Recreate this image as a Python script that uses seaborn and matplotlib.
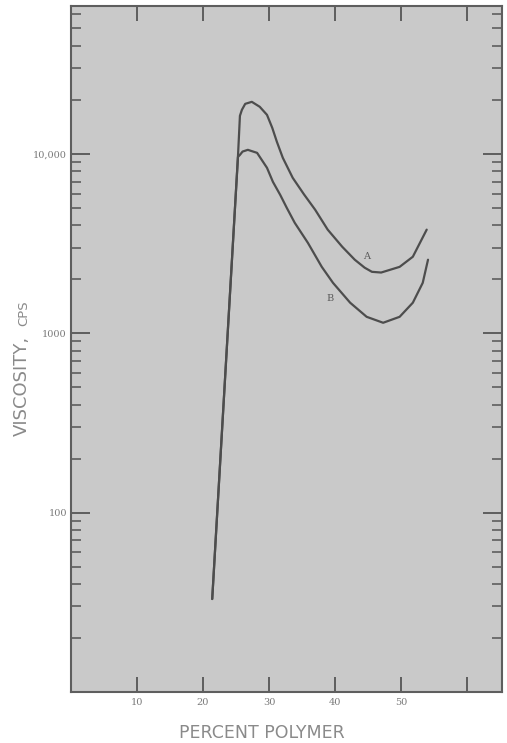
import matplotlib
matplotlib.use("Agg")
import matplotlib.pyplot as plt
import matplotlib.ticker as mticker
import seaborn as sns
import pandas as pd
import numpy as np

# values (percent polymer, viscosity in cps)
pct_a = [21.4, 25.3, 25.6, 25.9, 26.4, 27.4, 28.6, 29.7, 30.5, 31.2, 32.1, 33.6,
         35.3, 37.0, 38.9, 41.1, 43.0, 44.5, 45.6, 47.0, 49.8, 51.8, 53.9]
visc_a = [33, 9620, 16300, 17600, 19000, 19500, 18300, 16500, 13960, 11670, 9500, 7350,
          5950, 4880, 3780, 3035, 2570, 2320, 2200, 2180, 2345, 2670, 3780]

pct_b = [21.4, 25.3, 25.6, 26.0, 26.8, 28.2, 29.7, 30.6, 31.7, 32.7, 33.9, 35.9,
         38.0, 39.7, 42.3, 44.8, 47.3, 49.8, 51.8, 53.3, 54.1]
visc_b = [33, 9620, 9870, 10300, 10530, 10130, 8360, 6980, 5910, 5000, 4130, 3190,
          2345, 1910, 1480, 1235, 1144, 1235, 1480, 1910, 2570]

x_ticks = [10, 20, 30, 40, 50, 60]
x_labels = ["10", "20", "30", "40", "50", ""]
y_ticks = [100, 1000, 10000]
y_labels = ["100", "1000", "10,000"]

df = pd.concat([
    pd.DataFrame({"pct": pct_a, "visc": visc_a, "curve": "A"}),
    pd.DataFrame({"pct": pct_b, "visc": visc_b, "curve": "B"}),
])

sns.set_style("ticks")
axis_col = "#5e5e5e"
text_col = "#7a7a7a"

fig = plt.figure(figsize=(5.07, 7.43), dpi=100)
ax = fig.add_axes([0.140, 0.0686, 0.850, 0.9233])
ax.set_facecolor("#c9c9c9")

sns.lineplot(data=df, x="pct", y="visc", hue="curve", units="curve",
             palette={"A": "#4d4d4d", "B": "#4d4d4d"}, sort=False,
             estimator=None, legend=False, lw=1.6, ax=ax)

ax.set_yscale("log")
ax.set_xlim(0, 65.3)
ax.set_ylim(10, 66700)

ax.set_xticks(x_ticks)
ax.set_xticklabels(x_labels)
ax.set_yticks(y_ticks)
ax.set_yticklabels(y_labels)
ax.yaxis.set_minor_locator(mticker.LogLocator(base=10, subs=np.arange(2, 10)))
ax.yaxis.set_minor_formatter(mticker.NullFormatter())

ax.tick_params(axis="x", which="major", direction="in", top=True, length=11,
               width=1.4, color=axis_col, pad=4, labelsize=7, labelcolor=text_col)
ax.tick_params(axis="y", which="major", direction="in", right=True, length=14,
               width=1.4, color=axis_col, pad=3, labelsize=7, labelcolor=text_col)
ax.tick_params(axis="y", which="minor", direction="in", right=True, length=7,
               width=1.2, color=axis_col)
for lab in ax.get_xticklabels() + ax.get_yticklabels():
    lab.set_family("DejaVu Serif")

for sp in ax.spines.values():
    sp.set_color(axis_col)
    sp.set_linewidth(1.5)

ax.set_xlabel("")
ax.set_ylabel("")
ax.text(0.443, -0.0595, "PERCENT POLYMER", transform=ax.transAxes, ha="center",
        va="center", fontsize=12.5, color="#8a8a8a", family="DejaVu Sans")
ax.text(-0.102, 0.446, "VISCOSITY,", transform=ax.transAxes, ha="center",
        va="baseline", rotation=90, rotation_mode="anchor", fontsize=13,
        color="#8a8a8a", family="DejaVu Sans")
ax.text(-0.102, 0.552, "CPS", transform=ax.transAxes, ha="center",
        va="baseline", rotation=90, rotation_mode="anchor", fontsize=9.5,
        color="#8a8a8a", family="DejaVu Sans")

ax.text(44.8, 2670, "A", ha="center", va="center", fontsize=7,
        color="#5a5a5a", family="DejaVu Serif")
ax.text(39.2, 1557, "B", ha="center", va="center", fontsize=7,
        color="#5a5a5a", family="DejaVu Serif")

fig.savefig("out.png", dpi=100)
